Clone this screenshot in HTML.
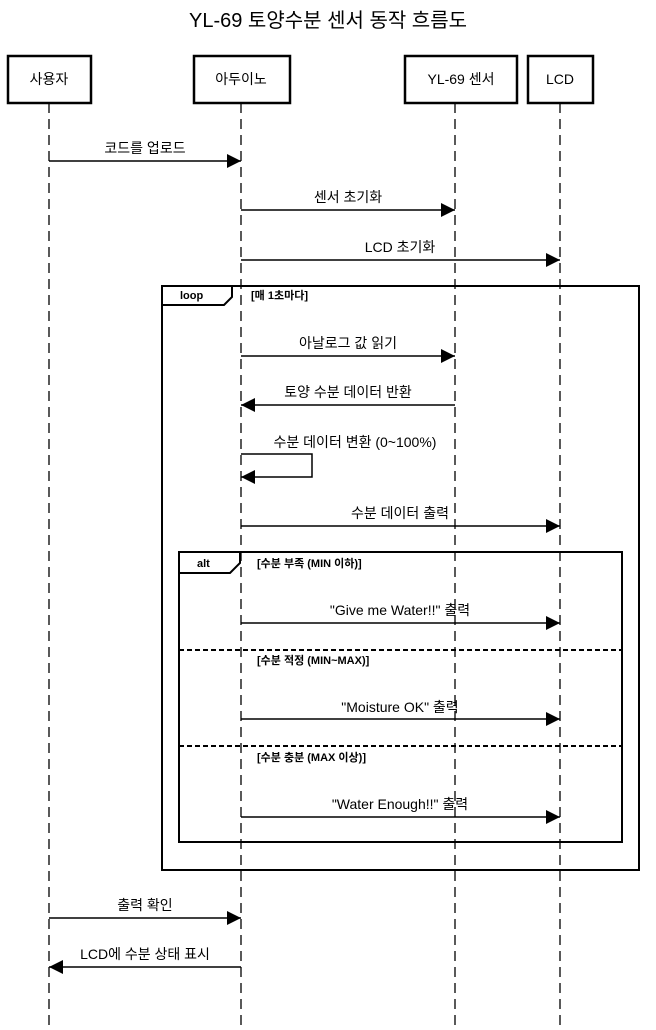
<!DOCTYPE html>
<html><head><meta charset="utf-8"><style>
html,body{margin:0;padding:0;background:#fff}
svg{display:block}
text{font-family:"Liberation Sans","Noto Sans CJK KR",sans-serif;fill:#000}
</style></head><body>
<svg width="656" height="1030" viewBox="0 0 656 1030" xmlns="http://www.w3.org/2000/svg">
<defs><marker id="a" markerWidth="14" markerHeight="14" refX="14" refY="7" orient="auto" markerUnits="userSpaceOnUse"><path d="M0,0 L14,7 L0,14 Z" fill="#000"/></marker></defs>
<text x="328" y="27" font-size="20" text-anchor="middle">YL-69 토양수분 센서 동작 흐름도</text>
<g stroke="#000" stroke-width="1.3" stroke-dasharray="10,6" fill="none">
<line x1="49" y1="103" x2="49" y2="1030"/>
<line x1="241" y1="103" x2="241" y2="1030"/>
<line x1="455" y1="103" x2="455" y2="1030"/>
<line x1="560" y1="103" x2="560" y2="1030"/>
</g>
<g stroke="#000" stroke-width="2.5" fill="#fff">
<rect x="8" y="56" width="83" height="47"/>
<rect x="194" y="56" width="96" height="47"/>
<rect x="405" y="56" width="112" height="47"/>
<rect x="528" y="56" width="65" height="47"/>
</g>
<g font-size="14" text-anchor="middle">
<text x="49" y="84">사용자</text><text x="241" y="84">아두이노</text><text x="461" y="84">YL-69 센서</text><text x="560" y="84">LCD</text>
</g>
<!-- frames -->
<g stroke="#000" stroke-width="2" fill="none">
<rect x="162" y="286" width="477" height="584"/>
<path d="M162,305 L224,305 L232,297 L232,286"/>
<rect x="179" y="552" width="443" height="290"/>
<path d="M179,573 L230,573 L240,563 L240,552"/>
</g>
<g stroke="#000" stroke-width="2" stroke-dasharray="5,3">
<line x1="179" y1="650" x2="622" y2="650"/>
<line x1="179" y1="746" x2="622" y2="746"/>
</g>
<g font-size="11" font-weight="bold">
<text x="180" y="299">loop</text><text x="251" y="299">[매 1초마다]</text>
<text x="197" y="567">alt</text><text x="257" y="567">[수분 부족 (MIN 이하)]</text>
<text x="257" y="664">[수분 적정 (MIN~MAX)]</text>
<text x="257" y="761">[수분 충분 (MAX 이상)]</text>
</g>
<!-- messages -->
<g stroke="#000" stroke-width="1.5" fill="none" marker-end="url(#a)">
<line x1="49" y1="161" x2="241" y2="161"/>
<line x1="241" y1="210" x2="455" y2="210"/>
<line x1="241" y1="260" x2="560" y2="260"/>
<line x1="241" y1="356" x2="455" y2="356"/>
<line x1="455" y1="405" x2="241" y2="405"/>
<polyline points="241,454 312,454 312,477 241,477"/>
<line x1="241" y1="526" x2="560" y2="526"/>
<line x1="241" y1="623" x2="560" y2="623"/>
<line x1="241" y1="719" x2="560" y2="719"/>
<line x1="241" y1="817" x2="560" y2="817"/>
<line x1="49" y1="918" x2="241" y2="918"/>
<line x1="241" y1="967" x2="49" y2="967"/>
</g>
<g font-size="14" text-anchor="middle">
<text x="145" y="153">코드를 업로드</text>
<text x="348" y="202">센서 초기화</text>
<text x="400" y="252">LCD 초기화</text>
<text x="348" y="348">아날로그 값 읽기</text>
<text x="348" y="397">토양 수분 데이터 반환</text>
<text x="355" y="447">수분 데이터 변환 (0~100%)</text>
<text x="400" y="518">수분 데이터 출력</text>
<text x="400" y="615">"Give me Water!!" 출력</text>
<text x="400" y="712">"Moisture OK" 출력</text>
<text x="400" y="809">"Water Enough!!" 출력</text>
<text x="145" y="910">출력 확인</text>
<text x="145" y="959">LCD에 수분 상태 표시</text>
</g>
</svg>
</body></html>
